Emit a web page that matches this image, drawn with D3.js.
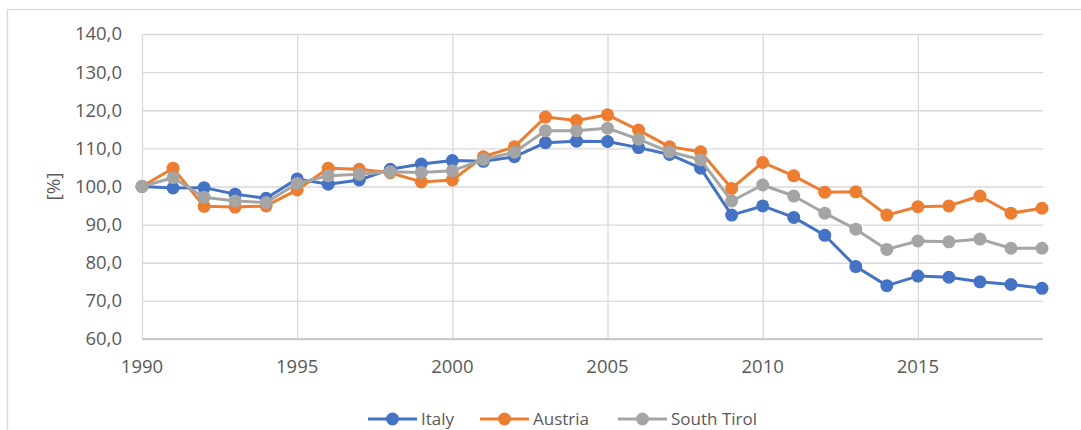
<!DOCTYPE html>
<html lang="en">
<head>
  <meta charset="UTF-8">
  <title>Italy / Austria / South Tirol index</title>
  <script src="https://d3js.org/d3.v7.min.js"></script>
  <style>
    body { margin: 0; background: #fff; }
    svg { display: block; font-family: "Open Sans", "Liberation Sans", sans-serif; }
    .tick-label { fill: #595959; font-size: 18.5px; }
    .axis-title { fill: #595959; font-size: 19px; }
    .grid line { stroke: #d9d9d9; stroke-width: 1.3px; }
    .legend text { fill: #595959; font-size: 17px; }
  </style>
</head>
<body>
  <div id="chart"></div>

  <script>
    const years = d3.range(1990, 2020);
    const italy = [100.0, 99.6, 99.7, 98.0, 96.9, 102.0, 100.6, 101.7, 104.5, 105.9,
                   106.8, 106.6, 107.8, 111.5, 111.9, 111.8, 110.2, 108.4, 104.8, 92.5,
                   94.9, 91.9, 87.2, 79.0, 74.0, 76.5, 76.2, 75.0, 74.3, 73.3];
    const austria = [100.0, 104.8, 94.8, 94.6, 94.9, 99.1, 104.8, 104.5, 103.6, 101.2,
                     101.7, 107.8, 110.4, 118.2, 117.3, 118.8, 114.8, 110.4, 109.1, 99.5,
                     106.3, 102.8, 98.5, 98.6, 92.5, 94.7, 94.9, 97.5, 93.0, 94.3];
    const southTirol = [100.0, 102.3, 97.2, 96.2, 95.8, 100.8, 102.8, 103.2, 103.9, 103.7,
                        104.1, 107.1, 109.0, 114.6, 114.6, 115.3, 112.4, 109.1, 107.0, 96.2,
                        100.4, 97.5, 93.0, 88.8, 83.5, 85.7, 85.5, 86.2, 83.8, 83.8];
    const yTicks = [60, 70, 80, 90, 100, 110, 120, 130, 140];
    const xTicks = [1990, 1995, 2000, 2005, 2010, 2015];

    const series = [
      { name: "Italy", values: italy, color: "#4472c4" },
      { name: "Austria", values: austria, color: "#ed7d31" },
      { name: "South Tirol", values: southTirol, color: "#a5a5a5" }
    ];

    const W = 1081, H = 430;
    const plotLeft = 142, plotRight = 1042, plotTop = 34, plotBottom = 339;

    const svg = d3.select("#chart").append("svg")
      .attr("width", W)
      .attr("height", H);

    // chart area border
    svg.append("rect")
      .attr("x", 7.5).attr("y", 9.5)
      .attr("width", W + 20).attr("height", H + 20)
      .attr("fill", "#fff")
      .attr("stroke", "#d9d9d9")
      .attr("stroke-width", 1.3);

    const x = d3.scaleLinear().domain([1990, 2019]).range([plotLeft, plotRight]);
    const y = d3.scaleLinear().domain([60, 140]).range([plotBottom, plotTop]);

    const fmt = d3.formatLocale({ decimal: ",", thousands: ".", grouping: [3], currency: ["", "€"] }).format(".1f");

    // horizontal grid
    const gy = svg.append("g")
      .attr("class", "grid")
      .attr("transform", `translate(${plotLeft},0)`)
      .call(d3.axisLeft(y).tickValues(yTicks).tickSize(-(plotRight - plotLeft + 1)).tickFormat(""));
    gy.select(".domain").remove();

    // vertical grid
    const gx = svg.append("g")
      .attr("class", "grid")
      .attr("transform", `translate(0,${plotBottom})`)
      .call(d3.axisBottom(x).tickValues(xTicks).tickSize(-(plotBottom - plotTop)).tickFormat(""));
    gx.select(".domain").remove();

    // x axis line
    svg.append("line")
      .attr("x1", plotLeft).attr("x2", plotRight + 1)
      .attr("y1", plotBottom).attr("y2", plotBottom)
      .attr("stroke", "#bfbfbf")
      .attr("stroke-width", 1.5);

    svg.append("g").selectAll("text")
      .data(yTicks)
      .join("text")
      .attr("class", "tick-label")
      .attr("x", 122)
      .attr("y", d => y(d))
      .attr("dy", "0.35em")
      .attr("text-anchor", "end")
      .text(d => fmt(d));

    svg.append("g").selectAll("text")
      .data(xTicks)
      .join("text")
      .attr("class", "tick-label")
      .attr("x", d => x(d))
      .attr("y", 373)
      .attr("text-anchor", "middle")
      .text(d => d);

    svg.append("text")
      .attr("class", "axis-title")
      .attr("transform", `translate(53,${y(100)}) rotate(-90)`)
      .attr("dy", "0.35em")
      .attr("text-anchor", "middle")
      .text("[%]");

    const line = d3.line()
      .x((d, i) => x(years[i]))
      .y(d => y(d));

    series.forEach(s => {
      const g = svg.append("g");
      g.append("path")
        .datum(s.values)
        .attr("fill", "none")
        .attr("stroke", s.color)
        .attr("stroke-width", 3)
        .attr("stroke-linejoin", "round")
        .attr("d", line);
      g.selectAll("circle")
        .data(s.values)
        .join("circle")
        .attr("cx", (d, i) => x(years[i]))
        .attr("cy", d => y(d))
        .attr("r", 6.5)
        .attr("fill", s.color);
    });

    // legend
    const legendX = [368, 480, 618];
    const legend = svg.append("g").attr("class", "legend");
    series.forEach((s, i) => {
      const lg = legend.append("g").attr("transform", `translate(${legendX[i]},419)`);
      lg.append("line")
        .attr("x1", 0).attr("x2", 49)
        .attr("stroke", s.color)
        .attr("stroke-width", 3);
      lg.append("circle")
        .attr("cx", 24.5)
        .attr("r", 6.5)
        .attr("fill", s.color);
      lg.append("text")
        .attr("x", 53)
        .attr("dy", "0.35em")
        .text(s.name);
    });
  </script>
</body>
</html>
